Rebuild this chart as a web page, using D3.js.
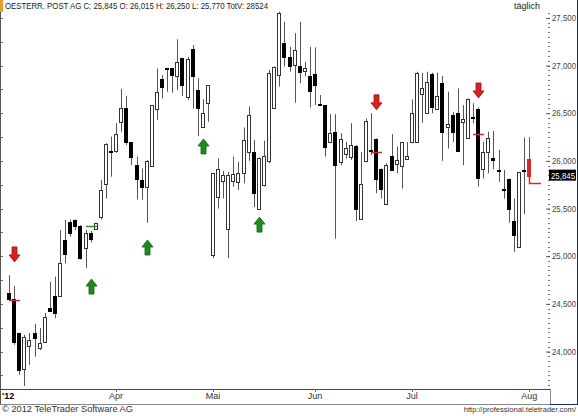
<!DOCTYPE html>
<html><head><meta charset="utf-8">
<script src="https://cdn.jsdelivr.net/npm/d3@7/dist/d3.min.js"></script>
<style>body{margin:0;background:#fff;} svg{display:block;font-family:Arial,"Liberation Sans",sans-serif;}</style>
</head><body><svg id="c" width="578" height="416"></svg>
<script>
// ---- data (OHLC, daily, Mar–Aug 2012) ----
const opens  = [24610,24550,24190,23815,24060,24190,24035,24095,24455,24585,24585,25175,25360,25380,25315,25090,25240,25290,25410,25755,26105,26105,26405,26550,26195,25955,25800,25730,25945,26545,26855,26970,26975,26885,27080,26675,27170,26745,26360,26605,25010,25625,25790,25290,25790,25780,25875,26095,26095,25500,25745,26000,26550,26900,27235,27085,27005,26995,26945,26890,26910,26595,26585,26200,26300,25990,26070,26045,26160,25385,26000,26115,26225,25915,25545,26055,25965,25945,26020,26200,26200,26700,26505,26910,26540,26815,26350,26480,26500,26405,26245,26460,26545,25910,26090,26035,25905,25710,25815,25370,25095,25905,26015];
const highs  = [24800,24685,24195,24175,24195,24290,24245,24405,24730,24785,25275,25380,25385,25385,25325,25275,25265,25350,25800,26185,26255,26395,26755,26680,26200,26045,25920,26010,26585,26970,26900,26975,26975,27275,27080,27090,27215,26865,26645,26795,25875,26025,25895,25885,26045,25990,26350,26570,26220,26035,26210,26955,26990,27565,27460,27195,27340,27460,27040,27195,27190,26690,26585,26490,26490,26290,26200,26395,26165,26095,26445,26500,26235,25920,25975,26280,26150,26200,26200,26645,26935,26920,26935,26925,26925,26890,26725,26515,26760,26585,26655,26605,26560,26200,26305,26315,26115,25905,25815,25605,25885,26245,26250];
const lows   = [24540,24070,23755,23640,23860,23945,24015,24090,24415,24350,24580,24925,25205,25275,24965,24875,25145,25290,25385,25605,25835,26085,26305,26165,25955,25595,25590,25350,25940,26430,26655,26725,26715,26745,26680,26640,26550,26260,26350,26410,24980,25500,25605,24980,25730,25695,25765,26000,25515,25490,25730,25975,26550,26780,26990,26935,26610,26815,26885,26560,26585,26585,26045,26185,25185,25955,26025,26010,25370,25380,25990,26060,25660,25605,25535,25895,25870,25710,26015,26185,26200,26400,26500,26500,26535,26000,26130,26200,26105,25955,26245,26395,25730,25815,25870,25910,25780,25605,25350,25045,25095,25440,25770];
const closes = [24550,24105,23805,24150,24120,24145,24090,24360,24420,24400,24925,25020,25245,25315,24980,25245,25185,25345,25695,26175,26090,26280,26550,26195,26045,25805,25730,26000,26585,26720,26780,26960,26900,27035,26795,27065,26885,26550,26500,26795,25870,25910,25850,25850,25860,25870,26220,26480,25660,26025,26055,26925,26980,27555,27085,26990,27165,26935,26970,26735,26795,26590,26150,26295,25955,26225,26130,26165,25500,25755,26420,26110,25805,25700,25955,25905,26010,26195,26055,26500,26920,26760,26830,26570,26680,26305,26385,26305,26105,26440,26645,26455,25825,26095,26245,26010,25900,25705,25500,25220,25885,25900,25845];
const totalVolume = 28524;
const instrument = "OESTERR. POST AG";
const monthLabels = ["Apr","Mai","Jun","Jul","Aug"];
const monthStartIndex = [21,40,60,79,102];
const yearLabel = "'12";
const priceTicks = [24000,24500,25000,25500,26000,26500,27000,27500];
// trading signals: candle index + price level of the arrow tip
const sellIdx = [1,72,92];       const sellLevel = [24940,26535,26660];
const buyIdx  = [16,27,38,49];   const buyLevel  = [24760,25170,26230,25410];
// signal reference levels
const levelIdx  = [1,16,72,92,102];
const levelVal  = [24545,25315,26095,26280,25770];
const levelKind = ["sell","buy","sell","sell","sell"];

// ---- layout ----
const svg = d3.select("#c");
const n = closes.length;
const x = d3.scaleBand().domain(d3.range(n)).range([6.45, 6.45 + n*5.1]);
const cx = i => x(i) + x.bandwidth()/2;
const y = d3.scaleLinear().domain([23607, 27572]).range([389, 11]);
const fmt = d3.format(",");

svg.append("rect").attr("width",578).attr("height",416).attr("fill","#fff");

// left ticks
const leftTicks = d3.range(23750, 27600, 250);
svg.append("g").selectAll("line").data(leftTicks).join("line")
  .attr("x1",0).attr("x2",3).attr("y1",d=>Math.round(y(d))+0.5).attr("y2",d=>Math.round(y(d))+0.5)
  .attr("stroke","#666");
svg.append("line").attr("x1",0.5).attr("x2",0.5).attr("y1",0).attr("y2",405).attr("stroke","#555");

// right axis (minor + major ticks)
const minor = d3.range(23650, 27600, 50);
svg.append("g").selectAll("line").data(minor).join("line")
  .attr("x1",548).attr("x2",550).attr("y1",d=>Math.round(y(d))+0.5).attr("y2",d=>Math.round(y(d))+0.5)
  .attr("stroke","#777");
const yAxis = d3.axisRight(y).tickValues(priceTicks).tickFormat(fmt).tickSize(4).tickPadding(2);
const ga = svg.append("g").attr("transform","translate(546,0)").call(yAxis);
ga.select(".domain").remove();
ga.selectAll(".tick line").attr("stroke","#555");
ga.selectAll(".tick text").attr("fill","#444").attr("font-size","8.5px").attr("font-family","Arial,'Liberation Sans',sans-serif")
  .attr("textLength",24).attr("lengthAdjust","spacingAndGlyphs");

// candles
const g = svg.append("g");
const idx = d3.range(n);
g.selectAll("line.w").data(idx).join("line").attr("class","w")
  .attr("x1",i=>Math.round(cx(i))+0.5).attr("x2",i=>Math.round(cx(i))+0.5)
  .attr("y1",i=>y(highs[i])).attr("y2",i=>y(lows[i]))
  .attr("stroke",i=> i===n-1 ? "#d42a2a" : "#555").attr("stroke-width",1);
g.selectAll("rect.b").data(idx).join("rect").attr("class","b")
  .attr("x",i=>Math.round(cx(i))-1.5).attr("width",4-1)
  .attr("y",i=>Math.round(y(Math.max(opens[i],closes[i])))+0.5)
  .attr("height",i=>Math.max(1, Math.round(y(Math.min(opens[i],closes[i])))-Math.round(y(Math.max(opens[i],closes[i])))))
  .attr("fill",i=> i===n-1 ? "#d42a2a" : (closes[i] < opens[i] ? "#000" : "#fff"))
  .attr("stroke",i=> i===n-1 ? "#d42a2a" : (closes[i] < opens[i] ? "#000" : "#333"));

// signal reference levels
const lv = svg.append("g");
levelIdx.forEach((i,k)=>{
  const col = levelKind[k]==="buy" ? "#2e8b2e" : "#d42a2a";
  const yy = Math.round(y(levelVal[k]))+0.5;
  const x0 = Math.round(cx(i));
  if (i===n-1) {
    lv.append("path").attr("d",`M${x0+0.5},${y(closes[i])}V${yy}H${x0+12}`).attr("stroke",col).attr("fill","none").attr("stroke-width",1.5);
  } else {
    lv.append("path").attr("d",`M${x0-5},${yy}H${x0+6}`).attr("stroke",col).attr("fill","none").attr("stroke-width",1.5);
  }
});

// arrows
function arrow(px, tipY, down, col, stroke){
  const w=5.5, hh=7, sw=2.5, sh=8;
  let d;
  if (down) d = `M${px},${tipY} L${px-w},${tipY-hh} L${px-sw},${tipY-hh} L${px-sw},${tipY-hh-sh} L${px+sw},${tipY-hh-sh} L${px+sw},${tipY-hh} L${px+w},${tipY-hh} Z`;
  else d = `M${px},${tipY} L${px-w},${tipY+hh} L${px-sw},${tipY+hh} L${px-sw},${tipY+hh+sh} L${px+sw},${tipY+hh+sh} L${px+sw},${tipY+hh} L${px+w},${tipY+hh} Z`;
  svg.append("path").attr("d",d).attr("fill",col).attr("stroke",stroke).attr("stroke-width",0.8);
}
sellIdx.forEach((i,k)=>arrow(Math.round(cx(i))+0.5, y(sellLevel[k]), true, "#d82020", "#a01010"));
buyIdx.forEach((i,k)=>arrow(Math.round(cx(i))+0.5, y(buyLevel[k]), false, "#1f8a1f", "#0f5f0f"));

// last price box
const lastY = y(closes[n-1]);
svg.append("rect").attr("x",549).attr("y",lastY-6).attr("width",27).attr("height",11).attr("fill","#000");
svg.append("text").attr("x",551).attr("y",lastY+3).attr("fill","#fff").attr("font-size","8.5px")
  .attr("textLength",24).attr("lengthAdjust","spacingAndGlyphs").text(fmt(closes[n-1]));

// frame lines
svg.append("line").attr("x1",0).attr("x2",551).attr("y1",389.5).attr("y2",389.5).attr("stroke","#444");
svg.append("line").attr("x1",0).attr("x2",551).attr("y1",404.5).attr("y2",404.5).attr("stroke","#888");
svg.append("line").attr("x1",550.5).attr("x2",550.5).attr("y1",389).attr("y2",405).attr("stroke","#888");
svg.append("line").attr("x1",577.5).attr("x2",577.5).attr("y1",0).attr("y2",405).attr("stroke","#1a2a6a").attr("stroke-width",1);
svg.append("line").attr("x1",550).attr("x2",578).attr("y1",404.5).attr("y2",404.5).attr("stroke","#1a2a6a");

// month axis
const mg = svg.append("g").attr("font-size","9px").attr("fill","#333");
monthLabels.forEach((m,k)=>{
  const px = cx(monthStartIndex[k]);
  mg.append("line").attr("x1",Math.round(px)+0.5).attr("x2",Math.round(px)+0.5).attr("y1",389).attr("y2",392).attr("stroke","#666");
  mg.append("text").attr("x",px).attr("y",399).attr("text-anchor","middle").text(m);
});
mg.append("text").attr("x",2).attr("y",399).attr("font-weight","bold").attr("fill","#000").text(yearLabel);

// title
svg.append("rect").attr("x",0).attr("y",0).attr("width",3).attr("height",12).attr("fill","#e89a30");
const last = n-1;
svg.append("text").attr("x",5).attr("y",9).attr("font-size","9px").attr("fill","#222")
  .attr("textLength",263).attr("lengthAdjust","spacingAndGlyphs")
  .text(`${instrument} C: ${fmt(closes[last])} O: ${fmt(opens[last])} H: ${fmt(highs[last])} L: ${fmt(lows[last])} TotV: ${totalVolume}`);
svg.append("text").attr("x",527).attr("y",9).attr("text-anchor","middle").attr("font-size","9px").attr("fill","#222").text("täglich");

// footer
svg.append("text").attr("x",2).attr("y",412).attr("font-size","9.5px").attr("fill","#333")
  .attr("textLength",131).attr("lengthAdjust","spacingAndGlyphs").text("© 2012 TeleTrader Software AG");
svg.append("text").attr("x",576).attr("y",412).attr("text-anchor","end").attr("font-size","7.6px").attr("fill","#333")
  .text("http://professional.teletrader.com/");
</script></body></html>
